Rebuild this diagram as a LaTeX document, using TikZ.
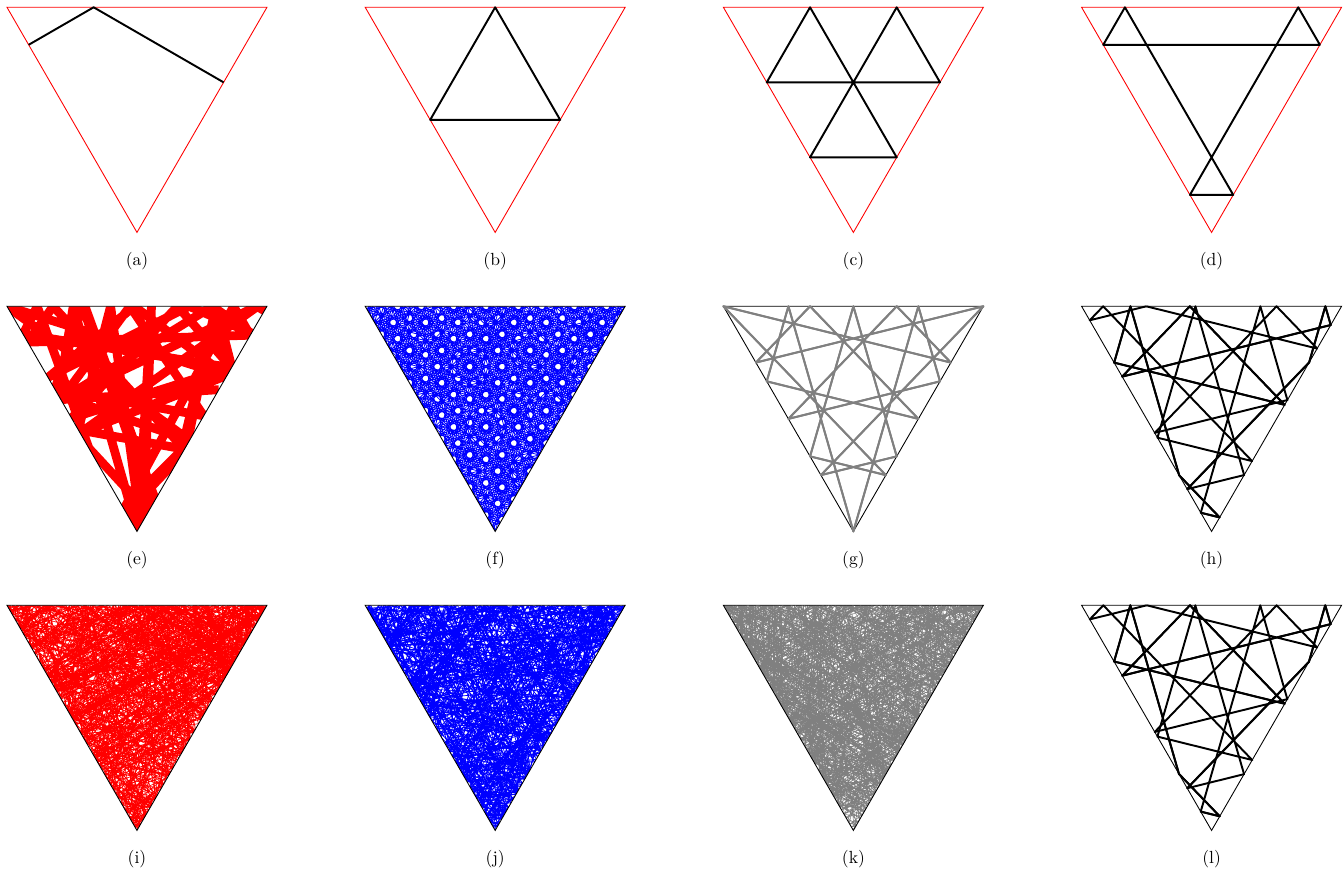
\documentclass[tikz,border=0pt]{standalone}
\usepackage{tikz}

% billiard path in the unit triangle: x0, y0, angle, bounces, noise, seed, style
\newcommand{\billiard}[7]{%
  \pgfmathsetseed{#6}%
  \xdef\bx{#1}\xdef\by{#2}\xdef\bth{#3}\xdef\bwall{0}%
  \xdef\bpath{(\bx,\by)}%
  \foreach \k in {1,...,#4}{%
    \pgfmathsetmacro\dx{cos(\bth)}%
    \pgfmathsetmacro\dy{sin(\bth)}%
    \def\tmin{99}\def\wmin{0}%
    % top side
    \ifnum\bwall=1 \else
      \pgfmathparse{\dy>0 ? -(\by)/max(\dy,0.001) : 99}%
      \ifdim\pgfmathresult pt<\tmin pt\relax \let\tmin\pgfmathresult\def\wmin{1}\fi
    \fi
    % left side
    \ifnum\bwall=2 \else
      \pgfmathsetmacro\gg{1.73205*(\dx)+(\dy)}%
      \pgfmathparse{\gg<0 ? (1.73205*(\bx)+(\by))/max(-(\gg),0.001) : 99}%
      \ifdim\pgfmathresult pt<\tmin pt\relax \let\tmin\pgfmathresult\def\wmin{2}\fi
    \fi
    % right side
    \ifnum\bwall=3 \else
      \pgfmathsetmacro\gg{-1.73205*(\dx)+(\dy)}%
      \pgfmathparse{\gg<0 ? (1.73205*(1-(\bx))+(\by))/max(-(\gg),0.001) : 99}%
      \ifdim\pgfmathresult pt<\tmin pt\relax \let\tmin\pgfmathresult\def\wmin{3}\fi
    \fi
    \pgfmathsetmacro\nx{\bx+\tmin*(\dx)}%
    \pgfmathsetmacro\ny{\by+\tmin*(\dy)}%
    % reflection, with a little noise kept pointing inwards
    \let\rth\bth\def\ncos{0}\def\nsin{0}%
    \ifcase\wmin\relax
    \or \pgfmathsetmacro\rth{-(\bth)}\def\ncos{0}\def\nsin{-1}\def\ny{0}%
    \or \pgfmathsetmacro\rth{-120-(\bth)}\def\ncos{0.86603}\def\nsin{0.5}%
    \or \pgfmathsetmacro\rth{120-(\bth)}\def\ncos{-0.86603}\def\nsin{0.5}%
    \fi
    \pgfmathsetmacro\qth{\rth+#5*rand}%
    \pgfmathparse{\ncos*cos(\qth)+\nsin*sin(\qth)>0.15 ? \qth : \rth}%
    \pgfmathsetmacro\nth{mod(\pgfmathresult,360)}%
    \xdef\bx{\nx}\xdef\by{\ny}\xdef\bth{\nth}\xdef\bwall{\wmin}%
    \xdef\bpath{\bpath -- (\bx,\by)}%
  }%
  \def\bdraw{\draw[#7]}\expandafter\bdraw\bpath;%
}

\begin{document}
\begin{tikzpicture}[x=0.02cm, y=-0.02cm,
    redframe/.style={draw=red, line width=0.5pt},
    blackframe/.style={draw=black, line width=0.5pt},
    orbit/.style={draw=black, line width=1.1pt, line join=round},
    grayorbit/.style={draw=gray, line width=1.1pt, line join=round},
    caption/.style={font=\normalsize, inner sep=0pt}
]
\useasboundingbox (0,0) rectangle (1343,872);

% --- Row 1: periodic orbits ---
\begin{scope}[shift={(7,7.3)}, x=5.2cm, y=5.2cm]
  \draw[redframe] (0,0) -- (1,0) -- (0.5,-0.86603) -- cycle;
  \draw[orbit] (0.08333,-0.14434) -- (0.33333,0) -- (0.83333,-0.28868);
\end{scope}
\node[caption] (la) at (137,261) {(a)};

\begin{scope}[shift={(365.2,7.3)}, x=5.2cm, y=5.2cm]
  \draw[redframe] (0,0) -- (1,0) -- (0.5,-0.86603) -- cycle;
  \draw[orbit] (0.5,0) -- (0.25,-0.43301) -- (0.75,-0.43301) -- cycle;
\end{scope}
\node[caption] (lb) at (495.2,261) {(b)};

\begin{scope}[shift={(723.4,7.3)}, x=5.2cm, y=5.2cm]
  \draw[redframe] (0,0) -- (1,0) -- (0.5,-0.86603) -- cycle;
  \draw[orbit] (0.33333,0) -- (0.16667,-0.28868) -- (0.83333,-0.28868) -- (0.66667,0)
    -- (0.33333,-0.57735) -- (0.66667,-0.57735) -- cycle;
\end{scope}
\node[caption] (lc) at (853.4,261) {(c)};

\begin{scope}[shift={(1081.6,7.3)}, x=5.2cm, y=5.2cm]
  \draw[redframe] (0,0) -- (1,0) -- (0.5,-0.86603) -- cycle;
  \draw[orbit] (0.16667,0) -- (0.08333,-0.14434) -- (0.91667,-0.14434) -- (0.83333,0)
    -- (0.41667,-0.72169) -- (0.58333,-0.72169) -- cycle;
\end{scope}
\node[caption] (ld) at (1211.6,261) {(d)};

% --- Row 2: long orbits ---
\begin{scope}[shift={(7,306.3)}, x=5.2cm, y=5.2cm]
  \begin{scope}
    \clip (0,0) -- (1,0) -- (0.5,-0.86603) -- cycle;
    \billiard{0.3}{0}{-70}{55}{8}{11}{red, line width=5pt, line join=round}
  \end{scope}
  \draw[blackframe] (0,0) -- (1,0) -- (0.5,-0.86603) -- cycle;
\end{scope}
\node[caption] (le) at (137,560) {(e)};

\begin{scope}[shift={(365.2,306.3)}, x=5.2cm, y=5.2cm]
  \begin{scope}
    \clip (0,0) -- (1,0) -- (0.5,-0.86603) -- cycle;
    \billiard{0.41}{0}{-75}{360}{0}{3}{blue, line width=0.45pt}
  \end{scope}
  \draw[blackframe] (0,0) -- (1,0) -- (0.5,-0.86603) -- cycle;
\end{scope}
\node[caption] (lf) at (495.2,560) {(f)};

\begin{scope}[shift={(723.4,306.3)}, x=5.2cm, y=5.2cm]
  \draw[blackframe] (0,0) -- (1,0) -- (0.5,-0.86603) -- cycle;
  \billiard{0.5}{-0.86603}{106.102}{30}{0}{1}{grayorbit}
  \billiard{0.5}{-0.86603}{73.898}{30}{0}{1}{grayorbit}
\end{scope}
\node[caption] (lg) at (853.4,560) {(g)};

\begin{scope}[shift={(1081.6,306.3)}, x=5.2cm, y=5.2cm]
  \draw[blackframe] (0,0) -- (1,0) -- (0.5,-0.86603) -- cycle;
  \billiard{0.249}{0}{-166.102}{18}{0}{1}{orbit}
  \billiard{0.249}{0}{-13.898}{17}{0}{1}{orbit}
\end{scope}
\node[caption] (lh) at (1211.6,560) {(h)};

% --- Row 3: noisy orbits ---
\begin{scope}[shift={(7,605.3)}, x=5.2cm, y=5.2cm]
  \begin{scope}
    \clip (0,0) -- (1,0) -- (0.5,-0.86603) -- cycle;
    \billiard{0.6}{0}{-100}{750}{3}{5}{red, line width=0.35pt}
  \end{scope}
  \draw[blackframe] (0,0) -- (1,0) -- (0.5,-0.86603) -- cycle;
\end{scope}
\node[caption] (li) at (137,859) {(i)};

\begin{scope}[shift={(365.2,605.3)}, x=5.2cm, y=5.2cm]
  \begin{scope}
    \clip (0,0) -- (1,0) -- (0.5,-0.86603) -- cycle;
    \billiard{0.4}{0}{-80}{600}{1}{7}{blue, line width=0.4pt}
  \end{scope}
  \draw[blackframe] (0,0) -- (1,0) -- (0.5,-0.86603) -- cycle;
\end{scope}
\node[caption] (lj) at (495.2,859) {(j)};

\begin{scope}[shift={(723.4,605.3)}, x=5.2cm, y=5.2cm]
  \begin{scope}
    \clip (0,0) -- (1,0) -- (0.5,-0.86603) -- cycle;
    \billiard{0.55}{0}{-60}{800}{4}{9}{gray, line width=0.3pt}
  \end{scope}
  \draw[blackframe] (0,0) -- (1,0) -- (0.5,-0.86603) -- cycle;
\end{scope}
\node[caption] (lk) at (853.4,859) {(k)};

\begin{scope}[shift={(1081.6,605.3)}, x=5.2cm, y=5.2cm]
  \draw[blackframe] (0,0) -- (1,0) -- (0.5,-0.86603) -- cycle;
  \billiard{0.2505}{0}{-166.102}{18}{0}{1}{orbit}
  \billiard{0.2505}{0}{-13.898}{17}{0}{1}{orbit}
\end{scope}
\node[caption] (ll) at (1211.6,859) {(l)};
\end{tikzpicture}
\end{document}
